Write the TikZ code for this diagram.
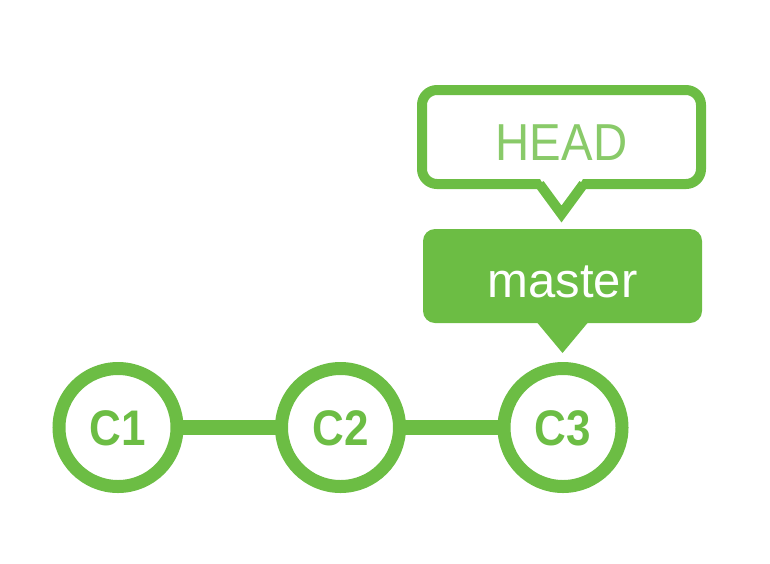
\documentclass[tikz,border=0pt]{standalone}
\usepackage{fontspec}
\setmainfont{Liberation Sans}
\usepackage{graphicx}
\usetikzlibrary{arrows.meta}
\definecolor{gitgreen}{RGB}{108,189,68}

\begin{document}
\begin{tikzpicture}[x=1pt, y=-1pt,
    commit/.style={circle, draw=gitgreen, line width=13pt, minimum size=118pt,
      inner sep=0pt, outer sep=0pt, text=gitgreen, text height=36pt, text depth=0pt,
      font=\fontsize{50}{50}\selectfont\bfseries},
    branch/.style={rectangle, rounded corners=12pt, fill=gitgreen, text=white,
      minimum width=279pt, minimum height=94pt, inner sep=0pt, outer sep=0pt,
      text height=42pt, text depth=0pt, font=\fontsize{49}{49}\selectfont},
    headbox/.style={rectangle, rounded corners=15pt, draw=gitgreen, line width=10pt,
      fill=white, minimum width=279pt, minimum height=94pt, inner sep=0pt, outer sep=0pt,
      text=gitgreen!80!white, text height=46pt, text depth=0pt,
      font=\fontsize{52}{52}\selectfont},
    link/.style={draw=gitgreen, line width=15pt}]
  \useasboundingbox (0,0) rectangle (770,563);
  % commits
  \node[commit] (c1) at (118,427.5) {\scalebox{0.88}[1]{C1}};
  \node[commit] (c2) at (340.5,427.5) {\scalebox{0.88}[1]{C2}};
  \node[commit] (c3) at (563,427.5) {\scalebox{0.88}[1]{C3}};
  \draw[link] (c1) -- (c2);
  \draw[link] (c2) -- (c3);
  % branch master, pointer onto C3
  \node[branch] (master) at (562.5,276) {master};
  \fill[gitgreen] ([xshift=-25pt]master.south) -- ++(25,30) -- ++(25,-30) -- cycle;
  % HEAD, pointer onto master
  \node[headbox] (head) at (561.5,137) {\scalebox{0.91}[1]{HEAD}};
  \fill[white] ([xshift=-22pt,yshift=6pt]head.south) -- ++(22,36) -- ++(22,-36) -- cycle;
  \draw[gitgreen, line width=10pt, line join=miter]
    ([xshift=-22pt]head.south) -- ++(22,30) -- ++(22,-30);
\end{tikzpicture}
\end{document}
